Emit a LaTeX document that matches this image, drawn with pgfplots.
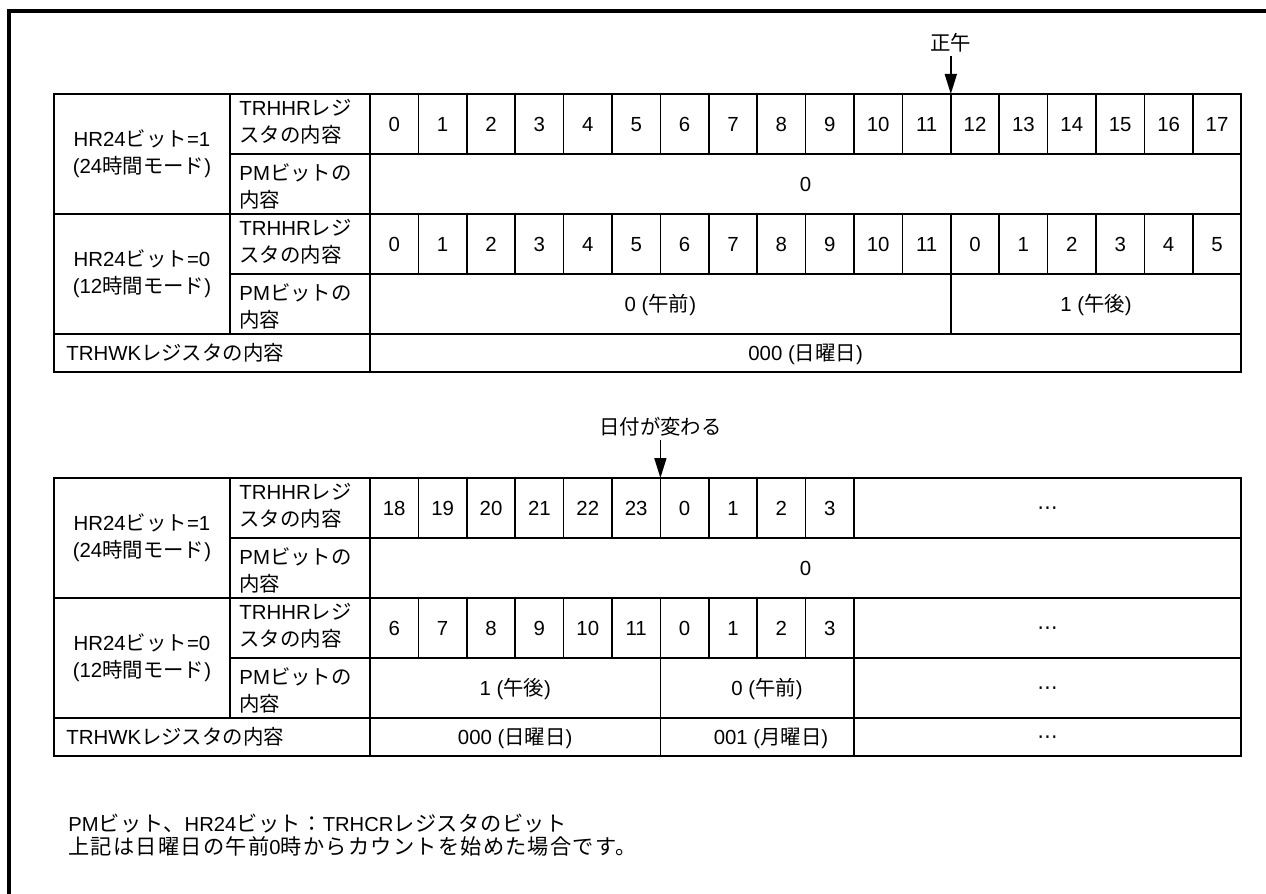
\documentclass[border=0pt]{standalone}
\usepackage{fontspec}
\usepackage{pgfplots}
\pgfplotsset{compat=1.18}
\usetikzlibrary{arrows.meta}
\setmainfont{Liberation Sans}
\newfontfamily\cjk{Noto Sans CJK JP}[Scale=1.0]
\newfontfamily\cjka{Noto Sans CJK JP}[Scale=1.05,LetterSpace=2.5]
\newfontfamily\cjksp{Noto Sans CJK JP}[Scale=1.05,LetterSpace=6]
\newfontfamily\dv{DejaVu Sans}
\newcommand\J[1]{{\cjk #1}}
\newcommand\Ja[1]{{\cjka #1}}
\newcommand\Jsp[1]{{\cjksp #1}}
\newcommand\mdots{{\dv ⋯}}
\tikzset{s/.style={text height=7.3pt, text depth=0pt}}
\begin{document}
\begin{tikzpicture}
\begin{axis}[
  scale only axis, width=633pt, height=446.5pt,
  xmin=0, xmax=1266, ymin=0, ymax=893, y dir=reverse,
  hide axis, clip=true,
  every axis plot/.append style={mark=none, black, line cap=rect, line join=miter},
  gl/.style={line width=0.8pt},
  ol/.style={line width=1.2pt},
  nodes={inner sep=0pt, font=\fontsize{10.2}{13.5}\selectfont},
]
% outer frame
\addplot[line width=2pt] coordinates {(8.7,960) (8.7,11) (1330,11)};

% ===== table 1 =====
\addplot[gl] coordinates {(230,154) (1241.2,154)};
\addplot[gl] coordinates {(54,214) (1241.2,214)};
\addplot[gl] coordinates {(230,274) (1241.2,274)};
\addplot[gl] coordinates {(54,334) (1241.2,334)};
\addplot[gl] coordinates {(230,94) (230,334)};
\addplot[gl] coordinates {(370,94) (370,372)};
\addplot[gl] coordinates {(950.8,274) (950.8,334)};
\pgfplotsinvokeforeach{418.4,466.8,515.2,563.6,612,660.4,708.8,757.2,805.6,854,902.4,950.8,999.2,1047.6,1096,1144.4,1192.8}{
  \addplot[gl] coordinates {(#1,94) (#1,154)};
  \addplot[gl] coordinates {(#1,214) (#1,274)};
}
\addplot[ol] coordinates {(54,94) (1241.2,94) (1241.2,372) (54,372) (54,94)};

% arrow 1
\addplot[line width=0.8pt, -{Triangle[length=10pt,width=6pt]}] coordinates {(950.8,57) (950.8,94)};
\node[s] at (axis cs:950.8,43) {\J{正午}};

% labels table 1
\node[align=center] at (axis cs:142,154) {HR24\J{ビット}=1\\(24\J{時間モード})};
\node[align=center] at (axis cs:142,274) {HR24\J{ビット}=0\\(12\J{時間モード})};
\node[align=left, anchor=west] at (axis cs:239,122) {TRHHR\J{レジ}\\\J{スタの内容}};
\node[align=left, anchor=west] at (axis cs:239,186) {PM\J{ビットの}\\\J{内容}};
\node[align=left, anchor=west] at (axis cs:239,242) {TRHHR\J{レジ}\\\J{スタの内容}};
\node[align=left, anchor=west] at (axis cs:239,306) {PM\J{ビットの}\\\J{内容}};
\node[s, anchor=west] at (axis cs:66,353) {TRHWK\J{レジスタの内容}};

% row 1 values (24h)
\node[s] at (axis cs:394.2,124) {0};
\node[s] at (axis cs:442.6,124) {1};
\node[s] at (axis cs:491.0,124) {2};
\node[s] at (axis cs:539.4,124) {3};
\node[s] at (axis cs:587.8,124) {4};
\node[s] at (axis cs:636.2,124) {5};
\node[s] at (axis cs:684.6,124) {6};
\node[s] at (axis cs:733.0,124) {7};
\node[s] at (axis cs:781.4,124) {8};
\node[s] at (axis cs:829.8,124) {9};
\node[s] at (axis cs:878.2,124) {10};
\node[s] at (axis cs:926.6,124) {11};
\node[s] at (axis cs:975.0,124) {12};
\node[s] at (axis cs:1023.4,124) {13};
\node[s] at (axis cs:1071.8,124) {14};
\node[s] at (axis cs:1120.2,124) {15};
\node[s] at (axis cs:1168.6,124) {16};
\node[s] at (axis cs:1217.0,124) {17};
\node[s] at (axis cs:805.6,184) {0};
% row 3 values (12h)
\node[s] at (axis cs:394.2,244) {0};
\node[s] at (axis cs:442.6,244) {1};
\node[s] at (axis cs:491.0,244) {2};
\node[s] at (axis cs:539.4,244) {3};
\node[s] at (axis cs:587.8,244) {4};
\node[s] at (axis cs:636.2,244) {5};
\node[s] at (axis cs:684.6,244) {6};
\node[s] at (axis cs:733.0,244) {7};
\node[s] at (axis cs:781.4,244) {8};
\node[s] at (axis cs:829.8,244) {9};
\node[s] at (axis cs:878.2,244) {10};
\node[s] at (axis cs:926.6,244) {11};
\node[s] at (axis cs:975.0,244) {0};
\node[s] at (axis cs:1023.4,244) {1};
\node[s] at (axis cs:1071.8,244) {2};
\node[s] at (axis cs:1120.2,244) {3};
\node[s] at (axis cs:1168.6,244) {4};
\node[s] at (axis cs:1217.0,244) {5};
\node[s] at (axis cs:660.4,304) {0 (\J{午前})};
\node[s] at (axis cs:1096,304) {1 (\J{午後})};
\node[s] at (axis cs:805.6,353) {000 (\J{日曜日})};

% ===== table 2 =====
\addplot[gl] coordinates {(230,538) (1241.2,538)};
\addplot[gl] coordinates {(54,598) (1241.2,598)};
\addplot[gl] coordinates {(230,658) (1241.2,658)};
\addplot[gl] coordinates {(54,718) (1241.2,718)};
\addplot[gl] coordinates {(230,478) (230,718)};
\addplot[gl] coordinates {(370,478) (370,756)};
\addplot[gl] coordinates {(660.4,658) (660.4,756)};
\addplot[gl] coordinates {(854,658) (854,756)};
\pgfplotsinvokeforeach{418.4,466.8,515.2,563.6,612,660.4,708.8,757.2,805.6,854}{
  \addplot[gl] coordinates {(#1,478) (#1,538)};
  \addplot[gl] coordinates {(#1,598) (#1,658)};
}
\addplot[ol] coordinates {(54,478) (1241.2,478) (1241.2,756) (54,756) (54,478)};

% arrow 2
\addplot[line width=0.8pt, -{Triangle[length=10pt,width=6pt]}] coordinates {(660.4,441) (660.4,478)};
\node[s] at (axis cs:660.4,427) {\J{日付が変わる}};

% labels table 2
\node[align=center] at (axis cs:142,538) {HR24\J{ビット}=1\\(24\J{時間モード})};
\node[align=center] at (axis cs:142,658) {HR24\J{ビット}=0\\(12\J{時間モード})};
\node[align=left, anchor=west] at (axis cs:239,506) {TRHHR\J{レジ}\\\J{スタの内容}};
\node[align=left, anchor=west] at (axis cs:239,570) {PM\J{ビットの}\\\J{内容}};
\node[align=left, anchor=west] at (axis cs:239,626) {TRHHR\J{レジ}\\\J{スタの内容}};
\node[align=left, anchor=west] at (axis cs:239,690) {PM\J{ビットの}\\\J{内容}};
\node[s, anchor=west] at (axis cs:66,737) {TRHWK\J{レジスタの内容}};

\node[s] at (axis cs:394.2,508) {18};
\node[s] at (axis cs:442.6,508) {19};
\node[s] at (axis cs:491.0,508) {20};
\node[s] at (axis cs:539.4,508) {21};
\node[s] at (axis cs:587.8,508) {22};
\node[s] at (axis cs:636.2,508) {23};
\node[s] at (axis cs:684.6,508) {0};
\node[s] at (axis cs:733.0,508) {1};
\node[s] at (axis cs:781.4,508) {2};
\node[s] at (axis cs:829.8,508) {3};
\node at (axis cs:1047.6,511) {\mdots};
\node[s] at (axis cs:805.6,568) {0};
\node[s] at (axis cs:394.2,628) {6};
\node[s] at (axis cs:442.6,628) {7};
\node[s] at (axis cs:491.0,628) {8};
\node[s] at (axis cs:539.4,628) {9};
\node[s] at (axis cs:587.8,628) {10};
\node[s] at (axis cs:636.2,628) {11};
\node[s] at (axis cs:684.6,628) {0};
\node[s] at (axis cs:733.0,628) {1};
\node[s] at (axis cs:781.4,628) {2};
\node[s] at (axis cs:829.8,628) {3};
\node at (axis cs:1047.6,631) {\mdots};
\node[s] at (axis cs:515.2,688) {1 (\J{午後})};
\node[s] at (axis cs:767,688) {0 (\J{午前})};
\node at (axis cs:1047.6,691) {\mdots};
\node[s] at (axis cs:515.2,737) {000 (\J{日曜日})};
\node[s] at (axis cs:771,737) {001 (\J{月曜日})};
\node at (axis cs:1047.6,740) {\mdots};

% footnote
\node[s, anchor=west, font=\fontsize{10.1}{12}\selectfont] at (axis cs:68,824) {PM\Ja{ビット、}HR24\Ja{ビット：}TRHCR\Ja{レジスタのビット}};
\node[s, anchor=west, font=\fontsize{10.1}{12}\selectfont] at (axis cs:68,847) {\Jsp{上記は日曜日の午前}0\Jsp{時からカウントを始めた場合です。}};
\end{axis}
\pgfresetboundingbox
\path[use as bounding box] (current axis.south west) rectangle (current axis.north east);
\end{tikzpicture}
\end{document}
